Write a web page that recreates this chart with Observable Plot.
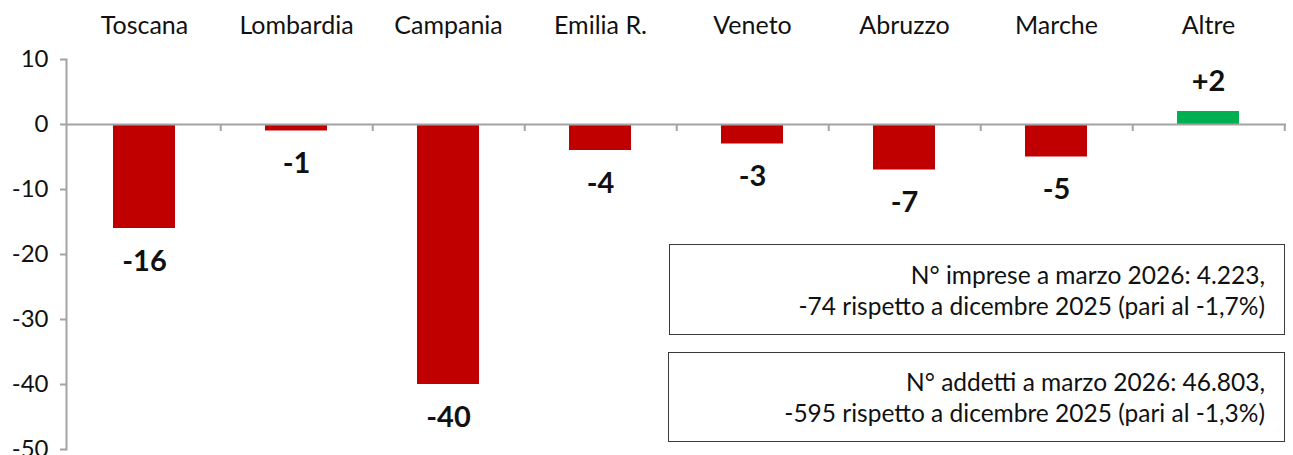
<!DOCTYPE html>
<html>
<head>
<meta charset="utf-8">
<script src="https://cdn.jsdelivr.net/npm/d3@7"></script>
<script src="https://cdn.jsdelivr.net/npm/@observablehq/plot@0.6"></script>
<style>
  html, body { margin: 0; padding: 0; background: #fff; overflow: hidden; }
  #wrap { position: relative; width: 1293px; height: 455px; font-family: Lato, "Open Sans", sans-serif; }
  .note {
    position: absolute; box-sizing: border-box;
    border: 1px solid #3a3a3a; background: #fff;
    text-align: right; font-size: 24.5px; line-height: 31px; color: #111;
    padding-right: 19px;
    display: flex; flex-direction: column; justify-content: center;
  }
</style>
</head>
<body>
<div id="wrap"></div>
<script>
// Variazione del numero di imprese per regione (marzo 2026 vs dicembre 2025)
const regions = ["Toscana", "Lombardia", "Campania", "Emilia R.", "Veneto", "Abruzzo", "Marche", "Altre"];
const changes = [-16, -1, -40, -4, -3, -7, -5, 2];
const yTicks = [10, 0, -10, -20, -30, -40, -50];
const notes = [
  ["N° imprese a marzo 2026: 4.223,", "-74 rispetto a dicembre 2025 (pari al -1,7%)"],
  ["N° addetti a marzo 2026: 46.803,", "-595 rispetto a dicembre 2025 (pari al -1,3%)"]
];

const data = regions.map((r, i) => ({region: r, value: changes[i]}));

const W = 1293, H = 455;
const mLeft = 66, mRight = 7, mTop = 59, mBottom = 6;
const step = (W - mLeft - mRight) / regions.length;        // width of one category slot
const pxPerUnit = (H - mTop - mBottom) / 60;
const grey = "#a3a3a3";
const ink = "#111";
const fmt = v => v > 0 ? `+${v}` : `${v}`;

const chart = Plot.plot({
  width: W,
  height: H,
  marginLeft: mLeft,
  marginRight: mRight,
  marginTop: mTop,
  marginBottom: mBottom,
  style: {fontFamily: "Lato, 'Open Sans', sans-serif", fontSize: "24px", color: ink, overflow: "visible"},
  x: {domain: regions, paddingInner: 0.593, paddingOuter: 0.2965, align: 0.5},
  y: {domain: [-50, 10]},
  marks: [
    Plot.barY(data, {
      x: "region", y1: 0, y2: "value",
      fill: d => d.value > 0 ? "#00B050" : "#C00000"
    }),
    // category axis line at zero, with ticks between categories
    Plot.ruleY([0], {stroke: grey, strokeWidth: 2}),
    Plot.ruleX(regions, {
      x: d => d, y1: 0, y2: -7 / pxPerUnit, dx: step / 2,
      stroke: grey, strokeWidth: 2
    }),
    Plot.frame({anchor: "left", stroke: grey, strokeWidth: 2}),
    Plot.axisY({
      ticks: yTicks, tickSize: 6, tickPadding: 12,
      stroke: grey, strokeWidth: 2, fill: ink,
      tickFormat: d => `${d}`, label: null, fontSize: 24
    }),
    Plot.axisX({
      anchor: "top", tickSize: 0, tickPadding: 26,
      label: null, fill: ink, fontSize: 25
    }),
    // value labels beyond the end of each bar
    Plot.text(data.filter(d => d.value < 0), {
      x: "region", y: "value", text: d => fmt(d.value),
      dy: 33, fontSize: 29, fontWeight: "bold", fill: ink
    }),
    Plot.text(data.filter(d => d.value > 0), {
      x: "region", y: "value", text: d => fmt(d.value),
      dy: -30, fontSize: 29, fontWeight: "bold", fill: ink
    })
  ]
});

const wrap = document.getElementById("wrap");
wrap.appendChild(chart);

// summary boxes
const boxes = [
  {left: 669, top: 244, width: 616, height: 91},
  {left: 668, top: 352, width: 617, height: 90}
];
notes.forEach((lines, i) => {
  const div = document.createElement("div");
  div.className = "note";
  Object.assign(div.style, {
    left: boxes[i].left + "px", top: boxes[i].top + "px",
    width: boxes[i].width + "px", height: boxes[i].height + "px"
  });
  lines.forEach(t => {
    const s = document.createElement("div");
    s.textContent = t;
    div.appendChild(s);
  });
  wrap.appendChild(div);
});
</script>
</body>
</html>
